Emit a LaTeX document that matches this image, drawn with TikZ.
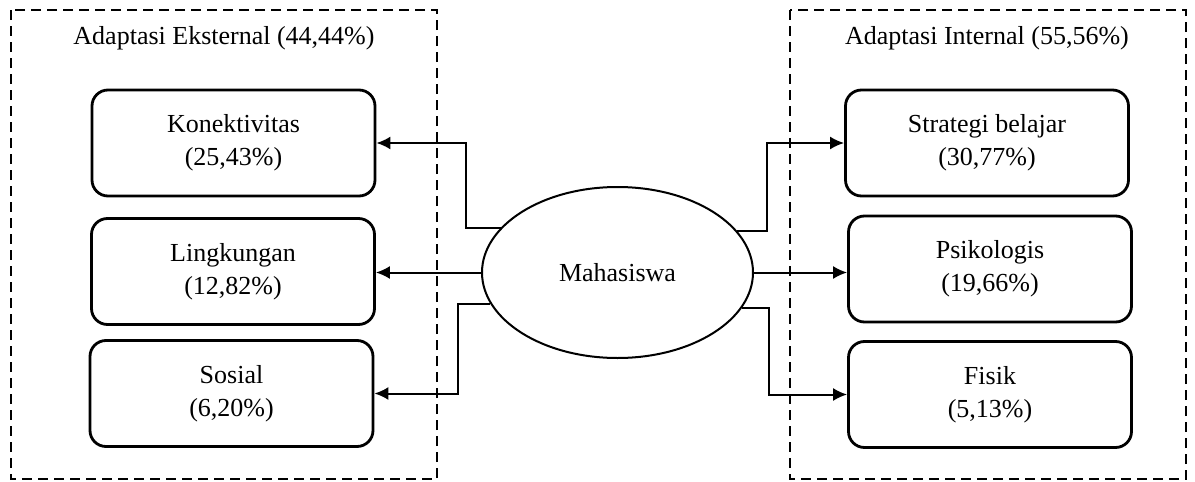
\documentclass[tikz,border=0pt]{standalone}
\usepackage{fontspec}
\setmainfont{Liberation Serif}
\usetikzlibrary{shapes.geometric,arrows.meta}
\tikzset{
  teks/.style={font=\fontsize{13}{16.5}\selectfont},
  kotak/.style={draw,teks,line width=1.4pt,rounded corners=8pt,minimum width=141.5pt,minimum height=53pt,align=center},
  grup/.style={draw,dashed,line width=1pt,dash pattern=on 5pt off 3pt},
  panah/.style={->,line width=1pt}
}
\begin{document}
\begin{tikzpicture}[>={Latex[length=7pt,width=6.5pt]},x=.5pt,y=-.5pt]
        \useasboundingbox (0,0) rectangle (1195,482);
        \draw[grup] (11,10) rectangle (437,479);
        \draw[grup] (790,10) rectangle (1186,479);
        \node[teks] (judulE) at (224,38) {Adaptasi Eksternal (44,44\%)};
        \node[teks] (judulI) at (987,38) {Adaptasi Internal (55,56\%)};
        \node[kotak] (kon) at (233.5,143) {Konektivitas\\(25,43\%)};
        \node[kotak] (lin) at (233,271.5) {Lingkungan\\(12,82\%)};
        \node[kotak] (sos) at (231.5,393.5) {Sosial\\(6,20\%)};
        \node[kotak] (str) at (987,143) {Strategi belajar\\(30,77\%)};
        \node[kotak] (psi) at (990,269) {Psikologis\\(19,66\%)};
        \node[kotak] (fis) at (990,394.5) {Fisik\\(5,13\%)};
        \node[draw,ellipse,teks,line width=1pt,minimum width=135.5pt,minimum height=85.5pt,inner sep=0pt] (mhs) at (617.5,272.5) {Mahasiswa};
        \draw[panah] (mhs.159) -- ++(-35,0) |- (kon.east);
        \draw[panah] (mhs.west) -- (mhs.west -| lin.east);
        \draw[panah] (mhs.194) -- ++(-32,0) |- (sos.east);
        \draw[panah] (mhs.19) -- ++(30,0) |- (str.west);
        \draw[panah] (mhs.east) -- (mhs.east -| psi.west);
        \draw[panah] (mhs.344) -- ++(27,0) |- (fis.west);
    \end{tikzpicture}
\end{document}
